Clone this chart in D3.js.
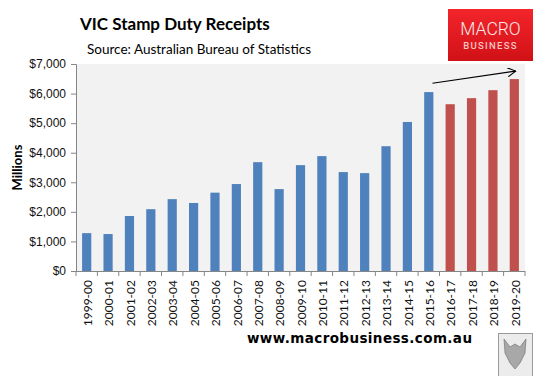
<!DOCTYPE html>
<html>
<head>
<meta charset="utf-8">
<script src="https://cdn.jsdelivr.net/npm/d3@7"></script>
<style>
    body { margin: 0; background: #fff; }
    svg { display: block; font-family: Lato, 'Open Sans', sans-serif; }
    .axis path, .axis line { stroke: #868686; }
    .axis text { fill: #111; font-size: 12px; }
</style>
</head>
<body>
<div id="chart"></div>
<script>
'use strict';

// Chart data
const years = ['1999-00', '2000-01', '2001-02', '2002-03', '2003-04', '2004-05', '2005-06',
    '2006-07', '2007-08', '2008-09', '2009-10', '2010-11', '2011-12', '2012-13', '2013-14',
    '2014-15', '2015-16', '2016-17', '2017-18', '2018-19', '2019-20'];
const receipts = [1280, 1250, 1860, 2090, 2430, 2300, 2650, 2940, 3680, 2770, 3580,
    3885, 3345, 3310, 4220, 5040, 6050, 5640, 5845, 6115, 6490];
const forecastYears = ['2016-17', '2017-18', '2018-19', '2019-20'];
const yTicks = [0, 1000, 2000, 3000, 4000, 5000, 6000, 7000];

// Trend arrow annotation (category, value)
const arrowFrom = { year: '2015-16', value: 6350, offset: 0.9 };
const arrowTo = { year: '2019-20', value: 6760, offset: 0.65 };

const palette = { actual: '#4F81BD', forecast: '#C0504D', plot: '#F2F2F2' };

const width = 545, height = 376;
const margins = { top: 64, right: 20, bottom: 105, left: 76 };
const chartWidth = width - margins.left - margins.right;
const chartHeight = height - margins.top - margins.bottom;

const svg = d3.select('#chart').append('svg')
    .attr('width', width)
    .attr('height', height);

const scaleX = d3.scaleBand()
    .domain(years)
    .range([0, chartWidth])
    .paddingInner(0.57)
    .paddingOuter(0.285);

const scaleY = d3.scaleLinear()
    .domain([0, 7000])
    .range([chartHeight, 0]);

const chart = svg.append('g')
    .attr('transform', `translate(${margins.left}, ${margins.top})`);

// Plot area background
chart.append('rect')
    .attr('width', chartWidth)
    .attr('height', chartHeight)
    .attr('fill', palette.plot);

// Bars
const rows = years.map((y, i) => ({ year: y, value: receipts[i] }));
chart.selectAll('rect.bar')
    .data(rows)
    .join('rect')
    .classed('bar', true)
    .attr('x', d => scaleX(d.year))
    .attr('width', scaleX.bandwidth())
    .attr('y', d => scaleY(d.value))
    .attr('height', d => chartHeight - scaleY(d.value))
    .attr('fill', d => forecastYears.includes(d.year) ? palette.forecast : palette.actual);

// Y axis
const axisY = chart.append('g').classed('axis', true)
    .call(d3.axisLeft(scaleY).tickValues(yTicks).tickSize(5).tickPadding(5)
        .tickFormat(d => '$' + d3.format(',')(d)));
axisY.select('.domain').attr('d', `M-5,0.5H0.5V${chartHeight}`);

// X axis: ticks between categories
const step = scaleX.step();
const xStart = scaleX(years[0]) - scaleX.paddingInner() * step / 2;
const axisX = chart.append('g').classed('axis', true)
    .attr('transform', `translate(0, ${chartHeight})`);
axisX.append('line')
    .attr('x1', 0).attr('x2', chartWidth)
    .attr('y1', 0.5).attr('y2', 0.5);
axisX.selectAll('line.tick')
    .data(d3.range(years.length + 1))
    .join('line')
    .classed('tick', true)
    .attr('x1', i => xStart + i * step)
    .attr('x2', i => xStart + i * step)
    .attr('y1', 0).attr('y2', 5);
axisX.selectAll('text')
    .data(years)
    .join('text')
    .attr('transform', d => `translate(${scaleX(d) + scaleX.bandwidth() / 2 + 1}, 9) rotate(-90)`)
    .attr('text-anchor', 'end')
    .attr('dy', '0.35em')
    .style('font-size', '12px')
    .text(d => d);

// Axis title
svg.append('text')
    .attr('transform', `translate(22, ${margins.top + chartHeight / 2}) rotate(-90)`)
    .attr('text-anchor', 'middle')
    .style('font-size', '13px')
    .style('font-weight', 'bold')
    .text('Millions');

// Trend arrow
svg.append('defs').append('marker')
    .attr('id', 'arrowhead')
    .attr('viewBox', '0 0 10 10')
    .attr('refX', 9).attr('refY', 5)
    .attr('markerWidth', 9).attr('markerHeight', 9)
    .attr('markerUnits', 'userSpaceOnUse')
    .attr('orient', 'auto')
    .append('path')
    .attr('d', 'M0,0L9,5L0,10')
    .attr('fill', 'none')
    .attr('stroke', '#000')
    .attr('stroke-width', 1.2);

const ax = p => scaleX(p.year) + scaleX.bandwidth() * p.offset;
chart.append('line')
    .attr('x1', ax(arrowFrom)).attr('y1', scaleY(arrowFrom.value))
    .attr('x2', ax(arrowTo)).attr('y2', scaleY(arrowTo.value))
    .attr('stroke', '#000')
    .attr('stroke-width', 1.2)
    .attr('marker-end', 'url(#arrowhead)');

// Titles
svg.append('text')
    .attr('x', 80).attr('y', 30)
    .style('font-size', '17px')
    .style('font-weight', 'bold')
    .text('VIC Stamp Duty Receipts');

svg.append('text')
    .attr('x', 87).attr('y', 54)
    .style('font-size', '13.5px')
    .text('Source: Australian Bureau of Statistics');

// MacroBusiness logo
const grad = svg.select('defs').append('linearGradient')
    .attr('id', 'logoGrad').attr('x1', 0).attr('y1', 0).attr('x2', 0).attr('y2', 1);
grad.append('stop').attr('offset', '0%').attr('stop-color', '#f3252b');
grad.append('stop').attr('offset', '100%').attr('stop-color', '#d01117');

const logo = svg.append('g').attr('transform', 'translate(448, 9)');
logo.append('rect')
    .attr('width', 85).attr('height', 52)
    .attr('fill', 'url(#logoGrad)');
logo.append('text')
    .attr('x', 42.5).attr('y', 26)
    .attr('text-anchor', 'middle')
    .style('font-family', 'Roboto, sans-serif')
    .style('font-weight', 300)
    .style('font-size', '17.5px')
    .style('fill', '#fde8e8')
    .text('MACRO');
logo.append('text')
    .attr('x', 42.5).attr('y', 39.5)
    .attr('text-anchor', 'middle')
    .style('font-family', 'Roboto, sans-serif')
    .style('font-weight', 500)
    .style('font-size', '9.5px')
    .style('letter-spacing', '1.3px')
    .style('fill', '#f9c4c4')
    .text('BUSINESS');

// Footer
svg.append('text')
    .attr('x', 247).attr('y', 343)
    .style('font-family', "'DejaVu Sans', sans-serif")
    .style('font-size', '13.5px')
    .style('font-weight', 'bold')
    .attr('textLength', 225)
    .text('www.macrobusiness.com.au');

// Wolf badge
const badge = svg.append('g').attr('transform', 'translate(498, 333)');
badge.append('rect')
    .attr('x', 0.5).attr('y', 0.5)
    .attr('width', 34).attr('height', 45)
    .attr('fill', '#ececec')
    .attr('stroke', '#9a9a9a');
badge.append('path')
    .attr('d', 'M6,6L12,14L17,11L22,14L28,6L27,20L22,30L17,36L12,30L7,20Z')
    .attr('fill', '#a8a8a8')
    .attr('stroke', '#6a6a6a')
    .attr('stroke-width', 0.6);
</script>
</body>
</html>
